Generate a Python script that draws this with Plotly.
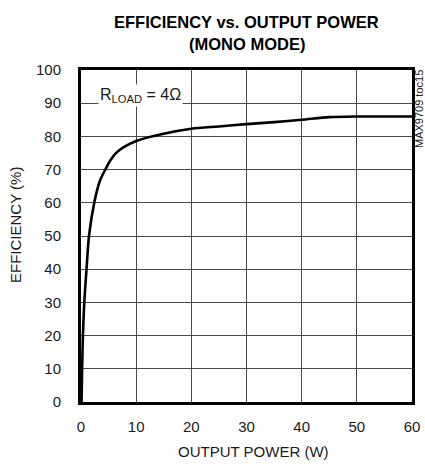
import plotly.graph_objects as go

power_w = [0.1, 0.2, 0.35, 0.6, 1.0, 1.45, 2.4, 3.4, 4.4, 5.4, 6.7, 10, 15, 20, 25, 30, 35, 40, 45, 50, 55, 60]
efficiency_pct = [0, 10, 20, 30, 40, 50, 60, 66.5, 70, 73, 75.5, 78.6, 80.8, 82.3, 83, 83.7, 84.3, 85, 85.8, 86, 86, 86]

x_ticks = [0, 10, 20, 30, 40, 50, 60]
y_ticks = [0, 10, 20, 30, 40, 50, 60, 70, 80, 90, 100]

FONT = "Liberation Sans, Arial, sans-serif"
TXT = "#1a1a1a"

fig = go.Figure()
fig.add_trace(go.Scatter(
    x=power_w, y=efficiency_pct, mode="lines",
    line=dict(color="black", width=2.6, shape="spline", smoothing=0.8),
    showlegend=False, hoverinfo="skip"))

axis_common = dict(
    showgrid=True, gridcolor="#4a4a4a", gridwidth=1,
    showline=True, linecolor="black", linewidth=3, mirror=True,
    zeroline=False, ticks="", automargin=False,
    tickfont=dict(family=FONT, size=15, color=TXT),
)

fig.update_xaxes(range=[0, 60], tickvals=x_ticks, ticklabelstandoff=9, **axis_common)
fig.update_yaxes(range=[0, 100], tickvals=y_ticks, ticklabelstandoff=14, **axis_common)

fig.update_layout(
    width=425, height=466,
    margin=dict(l=81, r=13, t=70, b=64, autoexpand=False),
    paper_bgcolor="white", plot_bgcolor="white",
    annotations=[
        dict(x=0.5, y=1, xref="paper", yref="paper", xanchor="center", yanchor="middle",
             yshift=48, text="<b>EFFICIENCY vs. OUTPUT POWER</b>", showarrow=False,
             font=dict(family=FONT, size=16.5, color="black")),
        dict(x=0.5, y=1, xref="paper", yref="paper", xanchor="center", yanchor="middle",
             yshift=26, text="<b>(MONO MODE)</b>", showarrow=False,
             font=dict(family=FONT, size=16.5, color="black")),
        dict(x=0.5, y=0, xref="paper", yref="paper", xanchor="center", yanchor="middle",
             xshift=7, yshift=-49, text="OUTPUT POWER (W)", showarrow=False,
             font=dict(family=FONT, size=15, color=TXT)),
        dict(x=0, y=0.5, xref="paper", yref="paper", xanchor="center", yanchor="middle",
             xshift=-66, yshift=11, text="EFFICIENCY (%)", textangle=-90, showarrow=False,
             font=dict(family=FONT, size=15, color=TXT)),
        dict(x=10.7, y=92.3, xref="x", yref="y", xanchor="center", yanchor="middle",
             text="R<sub>LOAD</sub> = 4Ω", showarrow=False, bgcolor="white",
             font=dict(family=FONT, size=16, color=TXT), borderpad=1),
        dict(x=1.0, y=1.0, xref="paper", yref="paper", xanchor="center", yanchor="middle",
             xshift=7, yshift=-39, text="MAX9709 toc15", textangle=-90, showarrow=False,
             font=dict(family=FONT, size=11, color=TXT)),
    ],
)

fig.write_html(
    "out.html",
    config={"displayModeBar": False},
    post_script="document.body.style.margin='0';document.body.style.overflow='hidden';",
)
